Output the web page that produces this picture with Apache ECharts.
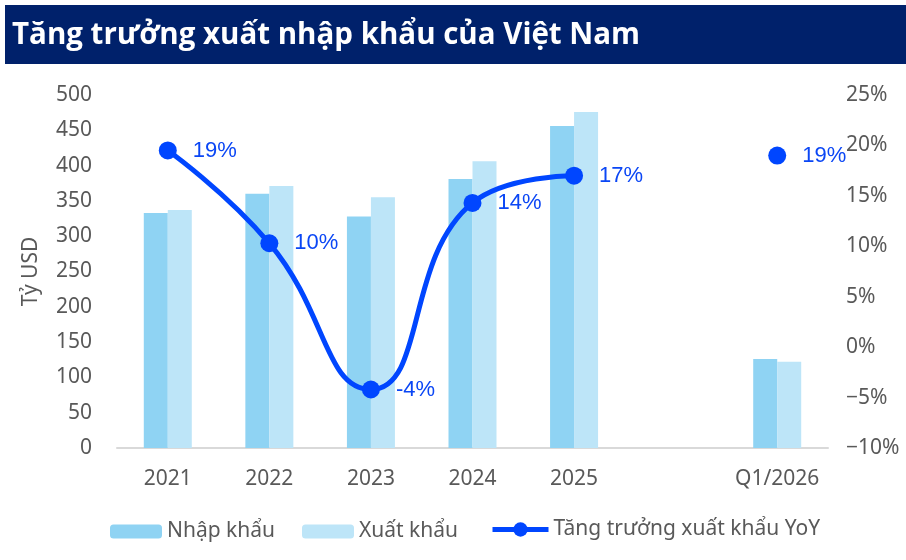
<!DOCTYPE html>
<html>
<head>
<meta charset="utf-8">
<script src="https://cdn.jsdelivr.net/npm/echarts@6/dist/echarts.min.js"></script>
<style>
html,body{margin:0;padding:0;background:#fff;}
#chart{width:906px;height:560px;}
</style>
</head>
<body>
<div id="chart"></div>
<script>
// du lieu
var categories = ['2021', '2022', '2023', '2024', '2025', '', 'Q1/2026'];
var importVals = [333, 360, 328, 381, 456, null, 126];
var exportVals = [337, 371, 355, 406, 476, null, 122];
var growthVals = [19.5, 10.3, -4.2, 14.3, 17.0, null, 19.0];
var growthLabels = ['19%', '10%', '-4%', '14%', '17%', '', '19%'];

var axisColor = '#595959';
var axisFont = 'Noto Sans';
var legendText = { color : axisColor, fontSize : 21, fontFamily : axisFont };

var myChart = echarts.init(document.getElementById('chart'));
myChart.setOption({
	animation : false,
	backgroundColor : '#fff',
	graphic : [ {
		type : 'rect',
		shape : { x : 5, y : 5, width : 901, height : 59 },
		style : { fill : '#00216B' }
	}, {
		type : 'text',
		x : 12,
		y : 36,
		style : {
			text : 'Tăng trưởng xuất nhập khẩu của Việt Nam',
			fill : '#fff',
			font : 'bold 29.5px "Open Sans"',
			verticalAlign : 'middle'
		}
	} ],
	grid : {
		left : 117,
		right : 78,
		top : 95,
		bottom : 112
	},
	// 3 chu giai dat rieng cho dung vi tri
	legend : [ {
		top : 516, left : 105,
		itemWidth : 52, itemHeight : 14,
		textStyle : legendText,
		data : [ 'Nhập khẩu' ]
	}, {
		top : 516, left : 297,
		itemWidth : 52, itemHeight : 14,
		textStyle : legendText,
		data : [ 'Xuất khẩu' ]
	}, {
		top : 514, left : 485,
		itemWidth : 56, itemHeight : 18,
		lineStyle : { width : 5 },
		textStyle : legendText,
		data : [ 'Tăng trưởng xuất khẩu YoY' ]
	} ],
	xAxis : [ {
		type : 'category',
		data : categories,
		axisTick : { show : false },
		axisLine : { lineStyle : { color : '#d9d9d9', width : 2 } },
		axisLabel : { interval : 0, color : axisColor, fontSize : 21, fontFamily : axisFont, margin : 21 }
	} ],
	yAxis : [ {
		type : 'value',
		min : 0,
		max : 500,
		interval : 50,
		name : 'Tỷ USD',
		nameLocation : 'middle',
		nameGap : 75,
		nameTextStyle : { color : axisColor, fontSize : 21, fontFamily : axisFont },
		splitLine : { show : false },
		axisLabel : { color : axisColor, fontSize : 21, fontFamily : axisFont, margin : 25 }
	}, {
		type : 'value',
		min : -10,
		max : 25,
		interval : 5,
		splitLine : { show : false },
		axisLabel : {
			color : axisColor, fontSize : 21, fontFamily : axisFont, margin : 18,
			formatter : function(v) {
				return (v < 0 ? '\u2212' + Math.abs(v) : v) + '%';
			}
		}
	} ],
	series : [ {
		name : 'Nhập khẩu',
		type : 'bar',
		barWidth : 24,
		barGap : '0%',
		itemStyle : { color : '#8FD3F3' },
		data : importVals
	}, {
		name : 'Xuất khẩu',
		type : 'bar',
		barWidth : 24,
		barGap : '0%',
		itemStyle : { color : '#BDE5F8' },
		data : exportVals
	}, {
		name : 'Tăng trưởng xuất khẩu YoY',
		type : 'line',
		yAxisIndex : 1,
		smooth : 0.5,
		connectNulls : false,
		symbol : 'circle',
		symbolSize : 18,
		showAllSymbol : true,
		lineStyle : { color : '#0046FF', width : 5 },
		itemStyle : { color : '#0046FF' },
		label : {
			show : true,
			position : 'right',
			distance : 16,
			color : '#0A46F5',
			fontSize : 22,
			fontFamily : 'Liberation Sans',
			formatter : function(p) {
				return growthLabels[p.dataIndex];
			}
		},
		data : growthVals
	} ]
});
</script>
</body>
</html>
